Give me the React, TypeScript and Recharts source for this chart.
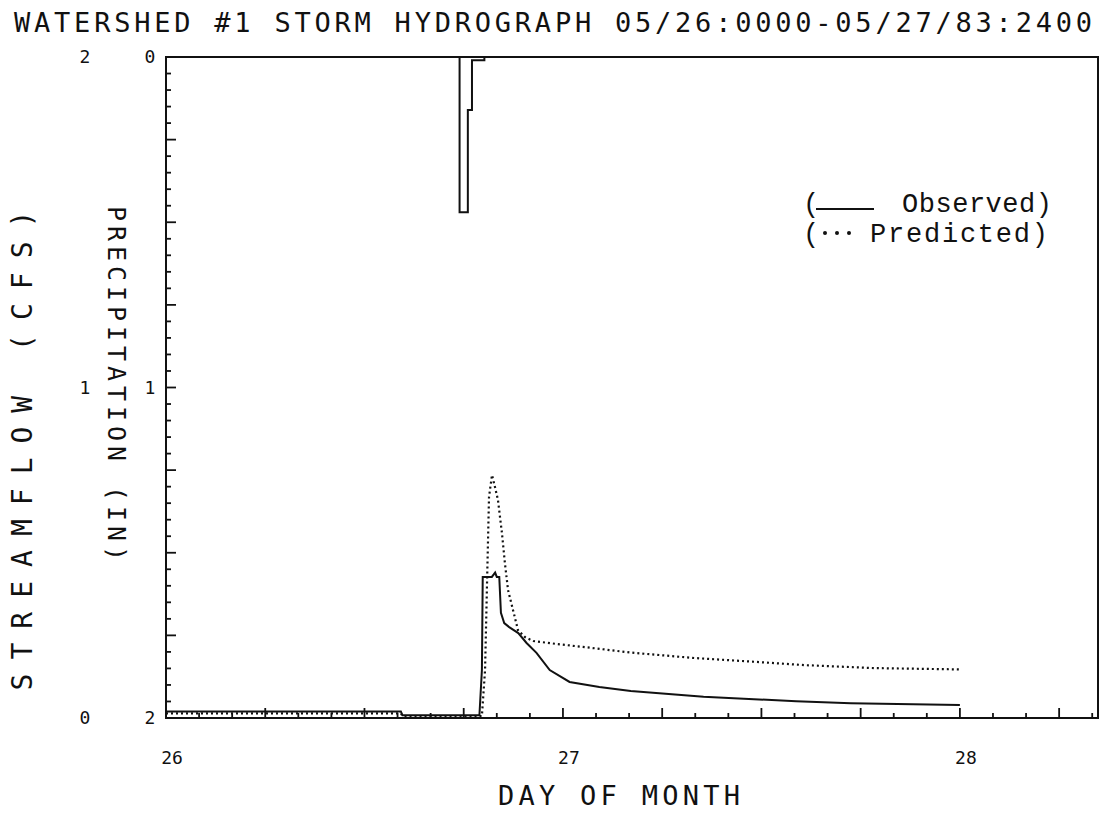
import React from 'react';
import {
  ComposedChart,
  Line,
  Area,
  XAxis,
  YAxis,
  ReferenceArea,
  Legend,
  Label,
} from 'recharts';

// hours after 05/26 00:00
const observedHours = [0, 14.2, 14.3, 18.95, 19.1, 19.15, 19.7, 19.9, 20.0, 20.15, 20.25, 20.45, 20.75, 21.3, 21.8, 22.4, 23.2, 24.4, 26.2, 28.1, 32.5, 38.1, 41.4, 48];
const observedFlow = [0.02, 0.02, 0.008, 0.008, 0.145, 0.427, 0.427, 0.44, 0.427, 0.427, 0.318, 0.287, 0.275, 0.257, 0.227, 0.197, 0.145, 0.109, 0.094, 0.082, 0.064, 0.051, 0.045, 0.039];

const predictedHours = [0, 14.2, 14.3, 19.1, 19.29, 19.41, 19.53, 19.71, 19.89, 20.07, 20.31, 20.49, 20.68, 20.98, 21.28, 21.7, 22.2, 23.6, 25.4, 28.1, 31.8, 35.6, 38.6, 42.8, 48];
const predictedFlow = [0.014, 0.014, 0.006, 0.006, 0.145, 0.408, 0.669, 0.735, 0.699, 0.66, 0.56, 0.469, 0.387, 0.327, 0.266, 0.245, 0.233, 0.224, 0.214, 0.198, 0.182, 0.17, 0.16, 0.151, 0.147];

const rainHours = [17.5, 17.75, 18, 18.25, 18.5, 18.75, 19, 19.25];
const rainDepth = [0, 0.47, 0.47, 0.16, 0.01, 0.01, 0.01, 0];

const dayHours = [0, 24, 48];
const dayLabels = ['26', '27', '28'];
const flowLabels = ['0', '1', '2'];
const rainLabels = ['0', '1', '2'];

const X_MAX = 56.35;
const hourTicks = Array.from({ length: 29 }, (_, i) => i * 2);
const scaleTicks = Array.from({ length: 41 }, (_, i) => i / 20);

const observed = observedHours.map((h, i) => ({ h, flow: observedFlow[i] }));
const predicted = predictedHours.map((h, i) => ({ h, flow: predictedFlow[i] }));
const rain = rainHours.map((h, i) => ({ h, depth: rainDepth[i] }));

const INK = '#111';
const PLOT_FONT = '"DejaVu Sans Mono", monospace';
const LEGEND_FONT = '"Liberation Mono", "Courier New", monospace';

function HourTick({ x, y, payload }: any) {
  const h = payload.value as number;
  const day = dayHours.indexOf(h);
  return (
    <g>
      <line x1={x} y1={y} x2={x} y2={y - (h % 6 === 0 ? 10 : 5)} stroke={INK} strokeWidth={1.8} />
      {day >= 0 && (
        <text x={x + 6} y={y + 46} textAnchor="middle" fontFamily={PLOT_FONT} fontSize={18} fill={INK}>
          {dayLabels[day]}
        </text>
      )}
    </g>
  );
}

function RainTick({ x, y, payload }: any) {
  const v = payload.value as number;
  const len = Math.round(v * 20) % 5 === 0 ? 10 : 5;
  const label = Number.isInteger(v) ? rainLabels[v] : null;
  return (
    <g>
      <line x1={x} y1={y} x2={x + len} y2={y} stroke={INK} strokeWidth={1.8} />
      {label && (
        <text x={x - 16} y={y + 6} textAnchor="middle" fontFamily={PLOT_FONT} fontSize={18} fill={INK}>
          {label}
        </text>
      )}
    </g>
  );
}

function FlowTick({ x, y, payload }: any) {
  const v = payload.value as number;
  return (
    <text x={x} y={y + 6} textAnchor="middle" fontFamily={PLOT_FONT} fontSize={18} fill={INK}>
      {flowLabels[v]}
    </text>
  );
}

function HydroLegend() {
  return (
    <svg width={270} height={70}>
      <text x={5} y={24} fontFamily={LEGEND_FONT} fontSize={27} fill={INK}>(</text>
      <line x1={18} x2={76} y1={21} y2={21} stroke={INK} strokeWidth={2} />
      <text x={104} y={24} textLength={150} lengthAdjust="spacing" fontFamily={LEGEND_FONT} fontSize={27} fill={INK}>
        Observed)
      </text>
      <text x={5} y={54} fontFamily={LEGEND_FONT} fontSize={27} fill={INK}>(</text>
      {[27, 39, 51].map((cx) => (
        <circle key={cx} cx={cx} cy={45} r={2} fill={INK} />
      ))}
      <text x={72} y={54} textLength={178} lengthAdjust="spacing" fontFamily={LEGEND_FONT} fontSize={27} fill={INK}>
        Predicted)
      </text>
    </svg>
  );
}

export default function App() {
  return (
    <div style={{ position: 'absolute', left: 0, top: 0, width: 1106, height: 813, background: '#fff' }}>
      <svg width={1106} height={45} style={{ position: 'absolute', left: 0, top: 0 }}>
        <text x={14} y={32} textLength={1078} lengthAdjust="spacing" fontFamily={PLOT_FONT} fontSize={27} fill={INK}>
          WATERSHED #1 STORM HYDROGRAPH 05/26:0000-05/27/83:2400
        </text>
      </svg>
      <ComposedChart width={1106} height={813} margin={{ top: 57, right: 8, bottom: 0, left: 0 }}>
        <XAxis
          dataKey="h"
          type="number"
          domain={[0, X_MAX]}
          ticks={hourTicks}
          interval={0}
          height={95}
          axisLine={false}
          tickLine={false}
          tickSize={0}
          tickMargin={0}
          tick={<HourTick />}
        >
          <Label
            content={({ viewBox }: any) => (
              <text
                x={viewBox.x + viewBox.width / 2 - 13}
                y={viewBox.y + 87}
                textAnchor="middle"
                textLength={242}
                lengthAdjust="spacing"
                fontFamily={PLOT_FONT}
                fontSize={27}
                fill={INK}
              >
                DAY OF MONTH
              </text>
            )}
          />
        </XAxis>
        <YAxis
          yAxisId="precip"
          type="number"
          domain={[0, 2]}
          reversed
          ticks={scaleTicks}
          interval={0}
          width={81}
          axisLine={false}
          tickLine={false}
          tickSize={0}
          tickMargin={0}
          tick={<RainTick />}
        >
          <Label
            content={({ viewBox }: any) => {
              const cx = viewBox.x + 31;
              const cy = viewBox.y + viewBox.height / 2 - 4;
              return (
                <text
                  x={cx}
                  y={cy}
                  transform={`rotate(90 ${cx} ${cy})`}
                  textAnchor="middle"
                  dominantBaseline="central"
                  textLength={355}
                  lengthAdjust="spacing"
                  fontFamily={PLOT_FONT}
                  fontSize={25}
                  fill={INK}
                >
                  PRECIPITATION (IN)
                </text>
              );
            }}
          />
        </YAxis>
        <YAxis
          yAxisId="streamflow"
          type="number"
          domain={[0, 2]}
          ticks={[0, 1, 2]}
          interval={0}
          width={85}
          axisLine={false}
          tickLine={false}
          tickSize={0}
          tickMargin={0}
          tick={<FlowTick />}
        >
          <Label
            content={({ viewBox }: any) => {
              const cx = viewBox.x + 22;
              const cy = viewBox.y + viewBox.height / 2 + 63;
              return (
                <text
                  x={cx}
                  y={cy}
                  transform={`rotate(-90 ${cx} ${cy})`}
                  textAnchor="middle"
                  dominantBaseline="central"
                  textLength={480}
                  lengthAdjust="spacing"
                  fontFamily={PLOT_FONT}
                  fontSize={28}
                  fill={INK}
                >
                  STREAMFLOW (CFS)
                </text>
              );
            }}
          />
        </YAxis>
        <Area
          yAxisId="precip"
          data={rain}
          dataKey="depth"
          type="stepAfter"
          stroke={INK}
          strokeWidth={2}
          fill="#fff"
          fillOpacity={1}
          legendType="none"
          isAnimationActive={false}
        />
        <Line
          yAxisId="streamflow"
          data={observed}
          dataKey="flow"
          name="Observed"
          type="linear"
          stroke={INK}
          strokeWidth={2}
          dot={false}
          isAnimationActive={false}
        />
        <Line
          yAxisId="streamflow"
          data={predicted}
          dataKey="flow"
          name="Predicted"
          type="linear"
          stroke={INK}
          strokeWidth={2.2}
          strokeDasharray="2 3"
          dot={false}
          isAnimationActive={false}
        />
        <ReferenceArea
          yAxisId="streamflow"
          x1={0}
          x2={X_MAX}
          y1={0}
          y2={2}
          fill="none"
          stroke={INK}
          strokeWidth={2}
          ifOverflow="visible"
        />
        <Legend
          layout="vertical"
          align="center"
          verticalAlign="middle"
          content={() => <HydroLegend />}
          wrapperStyle={{ left: 798, top: 188, width: 270 }}
        />
      </ComposedChart>
    </div>
  );
}
